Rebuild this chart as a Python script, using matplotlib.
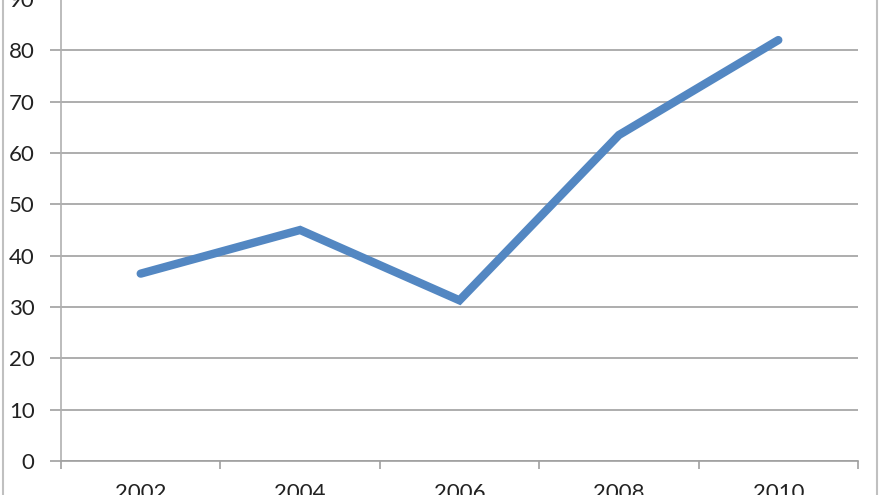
import matplotlib
matplotlib.use("Agg")
import matplotlib.pyplot as plt
from matplotlib.lines import Line2D

years = ["2002", "2004", "2006", "2008", "2010"]
values = [36.5, 45.0, 31.3, 63.5, 82.0]

plt.rcParams['font.family'] = ['Lato', 'DejaVu Sans']

fig = plt.figure(figsize=(8.8, 4.95), dpi=100)
W, H = 880, 495
ax = fig.add_axes([61 / W, 34 / H, (858 - 61) / W, 462 / H])

x = list(range(len(years)))
ax.plot(x, values, color='#5387c2', linewidth=6, solid_capstyle='round',
        solid_joinstyle='miter', zorder=3)

ax.set_xlim(-0.5, len(years) - 0.5)
ax.set_ylim(0, 90)
ax.set_yticks(range(0, 91, 10))
ax.set_xticks(x)
ax.set_xticklabels(years)
ax.set_xticks([i - 0.5 for i in range(len(years) + 1)], minor=True)

for s in ['top', 'right']:
    ax.spines[s].set_visible(False)
ax.spines['left'].set_color('#b0b0b0')
ax.spines['bottom'].set_color('#a0a0a0')
ax.spines['left'].set_linewidth(1.2)
ax.spines['bottom'].set_linewidth(1.2)

ax.grid(axis='y', color='#a0a0a0', linewidth=1.2, zorder=0)
ax.tick_params(axis='y', length=8, color='#a0a0a0', width=1.2, pad=11,
               labelsize=16, labelcolor='#222222')
ax.tick_params(axis='x', which='major', length=0, pad=16, labelsize=16,
               labelcolor='#222222')
ax.tick_params(axis='x', which='minor', length=6, color='#a0a0a0', width=1.2)

# outer chart border
fig.add_artist(Line2D([3 / W, 3 / W], [0, 1], color='#c0c0c0', linewidth=1.5))
fig.add_artist(Line2D([877 / W, 877 / W], [0, 1], color='#c0c0c0', linewidth=1.5))

fig.savefig("out.png", dpi=100)
